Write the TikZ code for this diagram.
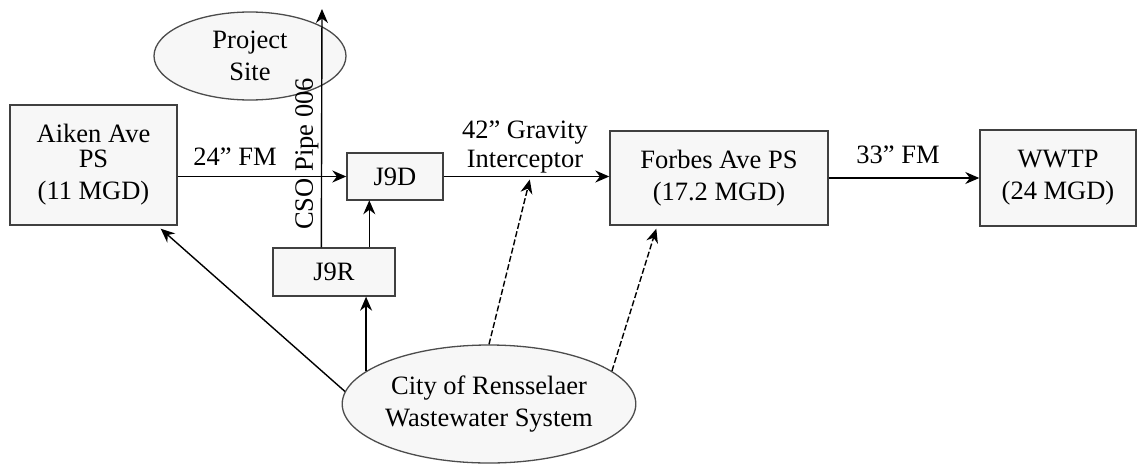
\documentclass[tikz,border=0pt]{standalone}
\usepackage{fontspec}
\setmainfont{Liberation Serif}
\usetikzlibrary{arrows.meta,calc,shapes.geometric}

\begin{document}
\begin{tikzpicture}[x=1pt,y=-1pt,
  txt/.style={font=\fontsize{26.5}{32}\selectfont},
  unit/.style={txt, draw=black!75, line width=1.4pt, fill=black!3,
               inner sep=0pt, align=center},
  oval/.style={txt, ellipse, draw=black!70, line width=1.3pt, fill=black!3,
               inner sep=0pt, align=center},
  lbl/.style={txt, inner sep=0pt, align=center},
  flow/.style={line width=1.4pt, -{Stealth[length=14pt,width=12pt]}},
  feed/.style={flow, dash pattern=on 6pt off 2.5pt}]
\useasboundingbox (0,0) rectangle (1139,466);

% stations and junctions
\node[unit, minimum width=167pt, minimum height=120pt] (aiken) at (93.5,165)
  {Aiken Ave\\[-7pt]PS\\(11 MGD)};
\node[unit, minimum width=96pt, minimum height=47pt] (j9d) at (395,176.5) {J9D};
\node[unit, minimum width=122pt, minimum height=48pt] (j9r) at (334,272) {J9R};
\node[unit, minimum width=218pt, minimum height=94pt] (forbes) at (719,178)
  {Forbes Ave PS\\(17.2 MGD)};
\node[unit, minimum width=156pt, minimum height=96pt] (wwtp) at (1058,178)
  {WWTP\\(24 MGD)};

% sites
\node[oval, minimum width=192pt, minimum height=88pt] (site) at (250,56)
  {Project\\Site};
\node[oval, minimum width=285pt, minimum height=118pt] (city) at (489,404)
  {City of Rensselaer\\Wastewater System};

% CSO outfall running up through the project site
\coordinate (csotop) at (322,9);
\draw[flow] ($(j9r.north west)+(49,0)$) -- (csotop);
\node[lbl, rotate=90] (cso) at (307,154) {CSO Pipe 006};

% main conveyance
\draw[flow] (j9d.west -| aiken.east) -- (j9d.west);
\node[lbl] (fm24) at (235,157) {24” FM};
\draw[flow] ($(j9r.north west)+(97,0)$) -- ($(j9r.north west)+(97,-47)$);
\draw[flow] (j9d.east) -- (forbes.west |- j9d.east);
\node[lbl] (grav) at (525,147) {42” Gravity\\[-3pt]Interceptor};
\draw[flow] (forbes.east |- wwtp.west) -- (wwtp.west);
\node[lbl] (fm33) at (898,155) {33” FM};

% collection system inflows
\coordinate (intc) at ($(j9d.east)!0.52!(forbes.west |- j9d.east)$);
\draw[flow] (city.175) -- ($(aiken.south east)+(-17,3)$);
\draw[flow] (city.165) -- (city.165 |- j9r.south);
\draw[feed] (city.north) -- ($(intc)+(0,3)$);
\draw[feed] (city.15) -- ($(forbes.south west)+(47,3)$);
\end{tikzpicture}
\end{document}
